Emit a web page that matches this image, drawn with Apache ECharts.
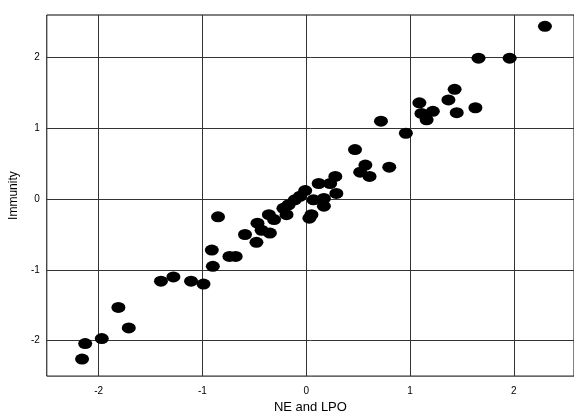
<!DOCTYPE html>
<html><head><meta charset="utf-8">
<script src="https://cdn.jsdelivr.net/npm/echarts@6/dist/echarts.min.js"></script>
<style>html,body{margin:0;padding:0;background:#fff}#c{width:574px;height:419px}</style>
</head><body><div id="c"></div>
<script>
const xValues = [2.30,1.66,1.96,1.43,1.37,1.09,1.11,1.22,1.16,1.45,1.63,0.72,0.96,0.47,0.57,0.52,0.61,0.80,0.28,0.12,0.23,-0.01,0.29,0.17,0.07,0.17,0.05,0.03,-0.11,-0.06,-0.17,-0.22,-0.19,-0.31,-0.36,-0.47,-0.43,-0.35,-0.59,-0.48,-0.85,-0.91,-0.74,-0.68,-0.90,-1.40,-1.28,-1.11,-0.99,-1.81,-1.71,-1.97,-2.13,-2.16];
const yValues = [2.44,1.99,1.99,1.55,1.40,1.36,1.21,1.24,1.12,1.22,1.29,1.10,0.93,0.70,0.48,0.38,0.32,0.45,0.32,0.22,0.22,0.12,0.08,0.01,-0.01,-0.10,-0.22,-0.27,-0.01,0.04,-0.08,-0.13,-0.22,-0.29,-0.22,-0.34,-0.44,-0.48,-0.50,-0.61,-0.25,-0.72,-0.81,-0.81,-0.95,-1.16,-1.10,-1.16,-1.20,-1.53,-1.82,-1.97,-2.04,-2.26];
const xTicks = [-2,-1,0,1,2];
const yTicks = [-2,-1,0,1,2];
const xName = 'NE and LPO';
const yName = 'Immunity';

const points = xValues.map((x,i)=>[x,yValues[i]]);
const chart = echarts.init(document.getElementById('c'));
const font = 'Liberation Sans, Arial, sans-serif';
chart.setOption({
  animation:false,
  grid:{left:45,right:-1,top:15,bottom:39,show:true,borderColor:'#000',borderWidth:1},
  xAxis:{type:'value',min:-2.5,max:2.58,name:xName,nameLocation:'middle',nameGap:20,
    nameTextStyle:{fontFamily:font,fontSize:13,color:'#000'},
    axisLine:{show:false},axisTick:{show:false,customValues:xTicks},
    axisLabel:{customValues:xTicks,fontFamily:font,fontSize:10,color:'#000',margin:10},
    splitLine:{show:true,lineStyle:{color:'#333',width:1}}},
  yAxis:{type:'value',min:-2.5,max:2.6,name:yName,nameLocation:'middle',nameGap:24,nameRotate:90,
    nameTextStyle:{fontFamily:font,fontSize:12,color:'#000'},
    axisLine:{show:false},axisTick:{show:false,customValues:yTicks},
    axisLabel:{customValues:yTicks,fontFamily:font,fontSize:10,color:'#000',margin:7},
    splitLine:{show:true,lineStyle:{color:'#333',width:1}}},
  series:[{type:'scatter',data:points,symbol:'circle',symbolSize:[14,11],
    itemStyle:{color:'#000',opacity:1}}]
});
</script></body></html>
